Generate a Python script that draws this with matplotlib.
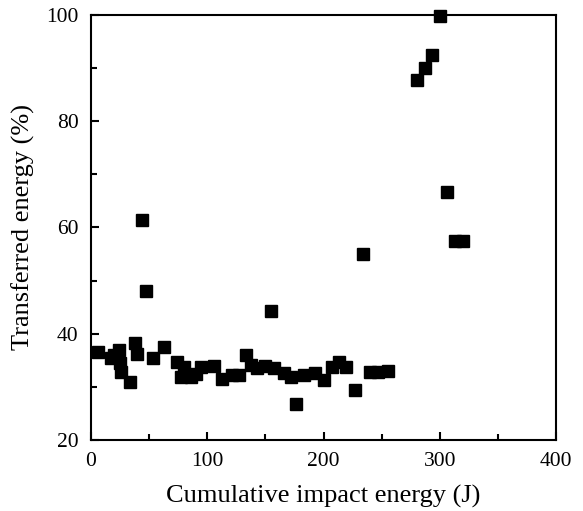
import matplotlib
matplotlib.use('Agg')
import matplotlib.pyplot as plt
from matplotlib.ticker import MultipleLocator

# Energia de impacto acumulada (J) e energia transferida (%)
impact_energy = [6, 17, 20, 24, 25, 26, 34, 37.6, 40, 44, 47, 53, 63, 74, 77,
                 80, 86, 90, 95, 106, 113, 121, 127, 133, 138, 143, 150, 155,
                 157, 166, 172, 176, 183, 193, 200, 207, 213, 219, 227, 234,
                 240, 247, 255, 280, 287, 293, 300, 306, 313, 320]
transferred = [36.5, 35.4, 36.0, 37.0, 34.5, 32.8, 31.0, 38.3, 36.2, 61.4, 48.0,
               35.5, 37.5, 34.7, 31.9, 33.7, 31.8, 32.5, 33.7, 34.0, 31.5, 32.3,
               32.3, 36.0, 34.2, 33.6, 34.0, 44.2, 33.5, 32.6, 31.9, 26.8, 32.2,
               32.6, 31.3, 33.7, 34.7, 33.7, 29.4, 55.0, 32.7, 32.7, 33.0, 87.8,
               90.0, 92.5, 99.7, 66.7, 57.5, 57.5]

plt.rcParams['font.family'] = ['Liberation Serif', 'DejaVu Serif']

fig = plt.figure(figsize=(5.83, 5.11), dpi=100)
ax = fig.add_axes([0.156, 0.139, 0.798, 0.832])

ax.plot(impact_energy, transferred, 's', color='black', markersize=9.2,
        clip_on=False)

ax.set_xlim(0, 400)
ax.set_ylim(20, 100)
ax.xaxis.set_major_locator(MultipleLocator(100))
ax.xaxis.set_minor_locator(MultipleLocator(50))
ax.yaxis.set_major_locator(MultipleLocator(20))
ax.yaxis.set_minor_locator(MultipleLocator(10))
ax.tick_params(which='both', direction='in', width=1.5, labelsize=15.5)
ax.tick_params(which='major', length=6)
ax.tick_params(which='minor', length=4)
ax.tick_params(axis='x', pad=9)
ax.tick_params(axis='y', pad=9)
for s in ax.spines.values():
    s.set_linewidth(1.5)

ax.set_xlabel('Cumulative impact energy (J)', fontsize=19, labelpad=10)
ax.set_ylabel('Transferred energy (%)', fontsize=19, labelpad=8)

fig.savefig('out.png', dpi=100)
